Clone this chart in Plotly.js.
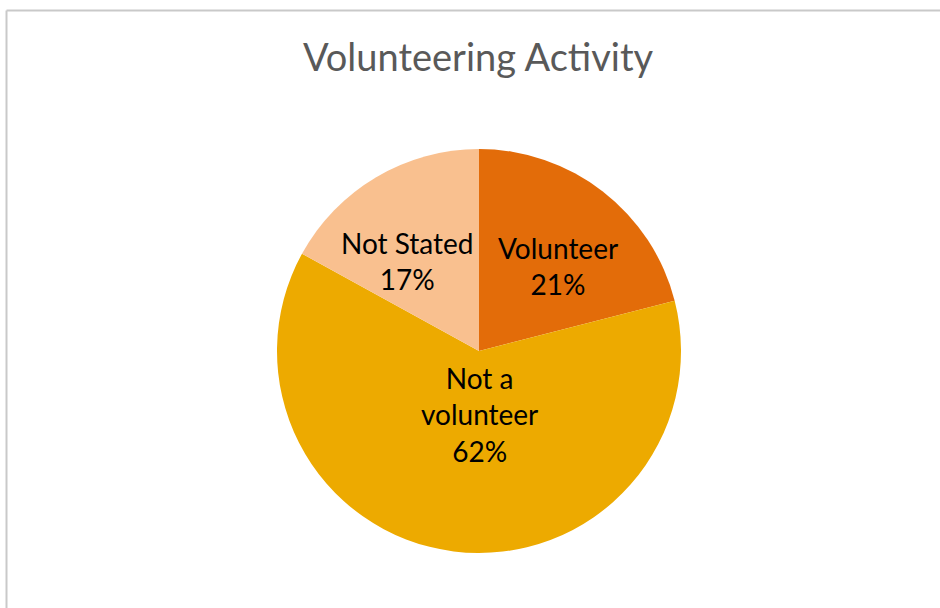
<!DOCTYPE html>
<html>
<head>
<meta charset="utf-8">
<script src="https://cdn.plot.ly/plotly-3.0.1.min.js"></script>
<style>
html,body{margin:0;padding:0;background:#fff;}
#chart{width:940px;height:608px;}
</style>
</head>
<body>
<div id="chart"></div>
<script>
const categories = ["Volunteer", "Not a<br>volunteer", "Not Stated"];
const shares = [21, 62, 17];
const sliceColors = ["#E36C09", "#EDAA00", "#F9C08F"];
const chartTitle = "Volunteering Activity";

// layout constants
const W = 940, H = 608;
const cx = 479, cy = 351, r = 202;
// label centre offsets (px) from pie centre, as placed by the original chart
const labelOffsets = [[79, -85], [0, 63], [-72, -90]];
const labelFont = {family: "Lato, 'Open Sans', sans-serif", size: 28, color: "#000000"};

const total = shares.reduce((a, b) => a + b, 0);

const trace = {
  type: "pie",
  labels: categories,
  values: shares,
  sort: false,
  direction: "clockwise",
  rotation: 0,
  marker: {colors: sliceColors, line: {color: "#ffffff", width: 0}},
  textinfo: "none",
  domain: {x: [(cx - r) / W, (cx + r) / W], y: [1 - (cy + r) / H, 1 - (cy - r) / H]},
  showlegend: false,
  hoverinfo: "label+percent"
};

const annotations = categories.map((c, i) => ({
  xref: "paper", yref: "paper",
  x: (cx + labelOffsets[i][0]) / W,
  y: 1 - (cy + labelOffsets[i][1]) / H,
  xanchor: "center", yanchor: "middle",
  text: c + "<br>" + Math.round(shares[i] / total * 100) + "%",
  showarrow: false,
  font: labelFont,
  align: "center"
}));

const layout = {
  width: W, height: H,
  margin: {l: 0, r: 0, t: 0, b: 0},
  paper_bgcolor: "#ffffff",
  title: {
    text: chartTitle,
    font: {family: "Lato, 'Open Sans', sans-serif", size: 38, color: "#595959"},
    x: 478 / W, xanchor: "center",
    y: 1 - 58 / H, yanchor: "middle"
  },
  annotations: annotations,
  shapes: [
    {type: "line", xref: "paper", yref: "paper", x0: 6.5 / W, x1: 6.5 / W, y0: -0.05, y1: 1 - 10.5 / H,
     line: {color: "#c9c9c9", width: 2}},
    {type: "line", xref: "paper", yref: "paper", x0: 6.5 / W, x1: 1.05, y0: 1 - 10.5 / H, y1: 1 - 10.5 / H,
     line: {color: "#c9c9c9", width: 2}}
  ]
};

Plotly.newPlot("chart", [trace], layout, {displayModeBar: false, staticPlot: true});
</script>
</body>
</html>
